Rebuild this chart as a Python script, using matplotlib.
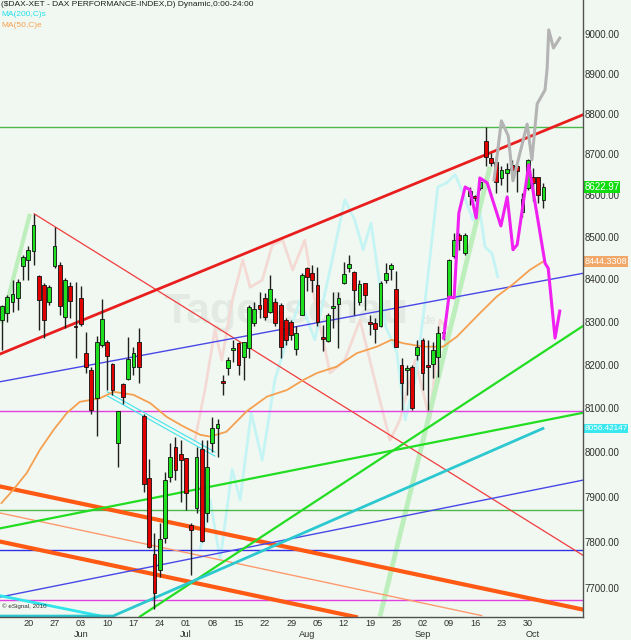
import matplotlib
matplotlib.use('Agg')
import matplotlib.pyplot as plt
from matplotlib.ticker import NullLocator

plt.rcParams['font.family'] = ['Liberation Sans', 'DejaVu Sans']

# daily candles, index 0 = Mon 20 May 2013
day_idx = list(range(-5, 99))
opens = [8305, 8323, 8349, 8357, 8434, 8448, 8468, 8410, 8389, 8348, 8433, 8436, 8314, 8385,
         8293, 8357, 8229, 8189, 8125, 8248, 8256, 8204, 8024, 8158, 8169, 8196, 8254, 8085,
         7945, 7777, 7741, 7811, 7946, 8015, 7999, 7989, 7841, 7878, 8010, 7867, 8023, 8058,
         8164, 8194, 8236, 8252, 8219, 8241, 8300, 8342, 8357, 8326, 8349, 8342, 8306, 8301,
         8238, 8319, 8428, 8416, 8389, 8266, 8258, 8334, 8344, 8394, 8428, 8418, 8349, 8393,
         8301, 8299, 8291, 8400, 8427, 8378, 8202, 8190, 8198, 8225, 8260, 8202, 8205, 8221,
         8275, 8361, 8456, 8507, 8464, 8600, 8600, 8620, 8736, 8693, 8685, 8644, 8657, 8677,
         8673, 8563, 8620, 8648, 8647, 8592]
highs = [8342, 8365, 8400, 8402, 8460, 8480, 8558, 8412, 8392, 8389, 8527, 8444, 8404, 8396,
         8396, 8385, 8279, 8198, 8268, 8355, 8260, 8207, 8096, 8161, 8266, 8244, 8287, 8089,
         7987, 7823, 7844, 7959, 8023, 8038, 8031, 7990, 7844, 8015, 8031, 8031, 8083, 8079,
         8179, 8221, 8260, 8256, 8256, 8342, 8349, 8372, 8369, 8412, 8357, 8346, 8310, 8306,
         8291, 8416, 8432, 8436, 8432, 8295, 8322, 8372, 8372, 8444, 8460, 8422, 8400, 8394,
         8318, 8310, 8398, 8440, 8440, 8422, 8217, 8202, 8202, 8260, 8264, 8260, 8256, 8291,
         8299, 8449, 8512, 8512, 8512, 8624, 8604, 8644, 8771, 8705, 8697, 8673, 8681, 8689,
         8685, 8608, 8691, 8669, 8648, 8632]
lows = [8237, 8302, 8326, 8330, 8400, 8400, 8436, 8283, 8264, 8342, 8428, 8318, 8287, 8310,
        8217, 8291, 8183, 8090, 8039, 8244, 8145, 8133, 7970, 8112, 8167, 8179, 8160, 7913,
        7790, 7658, 7727, 7800, 7937, 7941, 7892, 7874, 7731, 7867, 7804, 7848, 8004, 7992,
        8133, 8179, 8209, 8179, 8167, 8217, 8291, 8310, 8306, 8322, 8291, 8217, 8248, 8260,
        8225, 8318, 8375, 8371, 8291, 8233, 8256, 8287, 8241, 8391, 8418, 8318, 8342, 8330,
        8271, 8252, 8290, 8394, 8400, 8243, 8098, 8133, 8098, 8213, 8145, 8098, 8171, 8175,
        8260, 8357, 8452, 8472, 8460, 8580, 8588, 8616, 8673, 8673, 8608, 8628, 8612, 8644,
        8612, 8551, 8616, 8588, 8584, 8572]
closes = [8338, 8361, 8367, 8396, 8454, 8472, 8531, 8353, 8306, 8383, 8481, 8338, 8400, 8351,
          8289, 8297, 8198, 8098, 8255, 8308, 8223, 8145, 8095, 8128, 8215, 8229, 8198, 7932,
          7792, 7692, 7809, 7941, 7991, 7962, 7985, 7911, 7830, 7993, 7806, 7969, 8057, 8066,
          8160, 8213, 8240, 8202, 8254, 8336, 8332, 8331, 8314, 8378, 8300, 8244, 8260, 8271,
          8275, 8412, 8408, 8400, 8302, 8261, 8318, 8340, 8357, 8414, 8438, 8376, 8391, 8365,
          8297, 8285, 8394, 8416, 8436, 8244, 8160, 8194, 8102, 8244, 8183, 8198, 8236, 8275,
          8279, 8448, 8495, 8495, 8507, 8614, 8597, 8636, 8697, 8681, 8636, 8665, 8666, 8665,
          8663, 8593, 8689, 8632, 8604, 8622.97]

ma50_idx = [-5.1, -2.9, -0.3, 2.2, 4.8, 7.3, 9.8, 13.6, 16.2, 20.0, 23.2, 26.3, 29.5, 32.7,
            34.6, 37.7, 41.5, 45.4, 49.2, 52.3, 54.9, 58.7, 62.5, 66.3, 69.1, 71.3, 75.1, 78.9,
            81.5, 85.9, 89.1, 92.3, 95.4, 98.0]
ma50_val = [7889, 7918, 7956, 8008, 8053, 8091, 8117, 8125, 8140, 8133, 8114, 8083, 8061, 8042,
            8038, 8049, 8095, 8129, 8144, 8167, 8183, 8198, 8229, 8244, 8260, 8252, 8244, 8244,
            8267, 8322, 8361, 8391, 8424, 8444.3308]
ma200_idx = [-5.4, 16.1, 97.9]
ma200_val = [7642, 7642, 8056.42147]

# projections
proj_pink_idx = [79.0, 80.0, 81.0, 81.9, 83.1, 84.0, 85.2, 85.9, 87.3, 89.9, 91.1, 92.2, 93.0,
                 95.2, 98.3, 98.9, 100.2, 101.1]
proj_pink_val = [8264, 8360, 8358, 8560, 8623, 8616, 8548, 8645, 8633, 8529, 8599, 8472, 8484,
                 8677, 8440, 8428, 8264, 8327]
proj_grey_idx = [88.6, 90.0, 91.3, 92.2, 93.2, 94.9, 95.8, 96.8, 98.3, 98.7, 99.0, 99.9, 101.1]
proj_grey_val = [8640, 8785, 8748, 8638, 8689, 8777, 8689, 8827, 8862, 8916, 9013, 8967, 8992]
ghost_cyan_idx = [32.7, 34.6, 36.5, 38.8, 40.3, 42.4, 44.5, 46.9, 49.8, 51.7, 54.5, 57.4, 60.2,
                  62.1, 63.7, 65.2, 68.0, 70.1, 71.7, 73.6, 75.5, 77.9, 79.6, 81.2, 82.7, 84.6,
                  85.4, 86.9, 88.2, 89.3]
ghost_cyan_val = [7786, 7896, 7764, 7964, 7896, 8092, 7985, 8167, 8283, 8352, 8260, 8424, 8592,
                  8543, 8472, 8536, 8290, 8231, 8076, 8167, 8352, 8623, 8633, 8653, 8608, 8543,
                  8608, 8478, 8464, 8408]
ghost_red_idx = [31.7, 33.6, 35.5, 36.8, 38.8, 40.8, 42.2, 44.5, 46.4, 48.4, 50.3, 52.6, 54.5,
                 57.4, 60.2, 63.1, 65.9, 68.8, 70.7, 73.6, 76.4, 78.3, 80.2, 81.7]
ghost_red_val = [8030, 8144, 8283, 8213, 8352, 8448, 8383, 8400, 8483, 8495, 8424, 8495, 8352,
                 8183, 8213, 8306, 8167, 8030, 8076, 8213, 8076, 8306, 8283, 8352]

# hand drawn lines: ([i0, i1], [p0, p1])
red_channel = ([-5.38, 105.5], [8227, 8800])
red_fall = ([1.14, 105.5], [8558, 7774])
blue_upper = ([-5.38, 105.5], [8163, 8416])
blue_lower = ([-5.38, 105.5], [7683, 7940])
green_slow = ([-5.38, 105.5], [7833, 8092])
green_fast = ([21.25, 105.5], [7641, 8292])
orange_upper = ([-5.38, 105.5], [7926, 7656])
orange_lower = ([-5.38, 62.3], [7804, 7640])
salmon_line = ([-5.38, 86.25], [7867, 7643])
cyan_short = ([-5.38, 14.27], [7686, 7641])
cyan_pair_a = ([14.97, 35.5], [8140, 8003])
cyan_pair_b = ([14.97, 35.5], [8131, 7994])
pale_green_a = ([66.9, 87.8], [7641, 8672])
pale_green_b = ([-5.06, 0.32], [8299, 8558])
green_levels = [8770, 7874]
magenta_levels = [8095, 7677]
blue_levels = [7786]

price_ticks = [9000, 8900, 8800, 8700, 8600, 8500, 8400, 8300, 8200, 8100, 8000, 7900, 7800, 7700]
week_idx = list(range(0, 100, 5))
week_labels = ['20', '27', '03', '10', '17', '24', '01', '08', '15', '22', '29', '05', '12',
               '19', '26', '02', '09', '16', '23', '30']
month_idx = [10, 30, 53, 75, 96]
month_labels = ['Jun', 'Jul', 'Aug', 'Sep', 'Oct']
last_labels = ['8622.97', '8444.3308', '8056.42147']

BG = '#F1F8F1'
fig = plt.figure(figsize=(6.31, 6.40), dpi=100, facecolor=BG)
ax = fig.add_axes([0, 23 / 640, 583 / 631, 617 / 640], facecolor=BG)
ax.set_yscale('log')
ax.set_xlim(-5.38, 105.52)
ax.set_ylim(7640, 9089)

ax.text(0.49, 0.495, 'Tagesschau', transform=ax.transAxes, ha='center', va='center',
        fontsize=31, fontweight='bold', color='#E3EAE3', zorder=0)
ax.text(0.735, 0.48, 'de', transform=ax.transAxes, ha='center', va='center',
        fontsize=9, fontweight='bold', color='#E3EAE3', zorder=0)

# pale ghost series and thick pale trend lines
ax.plot(ghost_red_idx, ghost_red_val, color='#F4DAD4', lw=2, zorder=1)
ax.plot(ghost_cyan_idx, ghost_cyan_val, color='#C4F4F4', lw=2, zorder=1)
ax.plot(*pale_green_a, color='#BDEFBD', lw=3.5, zorder=1, solid_capstyle='butt')
ax.plot(*pale_green_b, color='#BDEFBD', lw=3, zorder=1, solid_capstyle='butt')

for lv in green_levels:
    ax.axhline(lv, color='#4CB84C', lw=1, zorder=2)
for lv in magenta_levels:
    ax.axhline(lv, color='#E040E0', lw=1, zorder=2)
for lv in blue_levels:
    ax.axhline(lv, color='#3030E8', lw=1, zorder=2)

ax.plot(*orange_upper, color='#FF5A14', lw=3, zorder=2)
ax.plot(*orange_lower, color='#FF5A14', lw=3, zorder=2)
ax.plot(*salmon_line, color='#FF9A70', lw=1, zorder=2)
ax.plot(*red_fall, color='#F03C3C', lw=0.9, zorder=2)
ax.plot(*red_channel, color='#E81E1E', lw=2, zorder=3)
ax.plot(*blue_upper, color='#4848E8', lw=1, zorder=2)
ax.plot(*blue_lower, color='#4848E8', lw=1, zorder=2)
ax.plot(*green_slow, color='#22DD22', lw=1.6, zorder=2)
ax.plot(*green_fast, color='#22DD22', lw=1.6, zorder=2)
ax.plot(*cyan_short, color='#30E4EC', lw=2, zorder=2)
ax.plot(*cyan_pair_a, color='#40E4EC', lw=0.8, zorder=2)
ax.plot(*cyan_pair_b, color='#40E4EC', lw=0.8, zorder=2)
ax.plot(ma200_idx, ma200_val, color='#2CC8D0', lw=2, zorder=2, clip_on=False)
ax.plot(ma50_idx, ma50_val, color='#F5A050', lw=1.3, zorder=3)

# candles
ax.vlines(day_idx, lows, highs, color='#202020', lw=1, zorder=4)
for i, o, c in zip(day_idx, opens, closes):
    lo, hi = min(o, c), max(o, c)
    if hi - lo < 3:
        lo, hi = lo - 1.5, hi + 1.5
    ax.bar(i, hi - lo, bottom=lo, width=0.72, color='#1FE01F' if c >= o else '#E00000',
           edgecolor='#101010', linewidth=0.6, zorder=5)

ax.plot(proj_grey_idx, proj_grey_val, color='#B4B4B4', lw=2.2, zorder=6)
ax.plot(proj_pink_idx, proj_pink_val, color='#F020F0', lw=2.2, zorder=6)

ax.yaxis.set_major_locator(NullLocator())
ax.yaxis.set_minor_locator(NullLocator())
ax.xaxis.set_major_locator(NullLocator())
ax.xaxis.set_minor_locator(NullLocator())
for s in ['top', 'left']:
    ax.spines[s].set_visible(False)
for s in ['right', 'bottom']:
    ax.spines[s].set_color('#505050')
    ax.spines[s].set_linewidth(1)
    ax.spines[s].set_zorder(7)

ytr = ax.get_yaxis_transform()
for p in price_ticks:
    ax.text(1.002, p, f'{p:.2f}', transform=ytr, ha='left', va='center', fontsize=7,
            color='#303030', clip_on=False)
last_vals = [closes[-1], ma50_val[-1], ma200_val[-1]]
for val, lab, fc, fs in zip(last_vals, last_labels, ['#10DC10', '#F2A868', '#3CE8F0'],
                            [7, 6.6, 5.9]):
    ax.text(1.002, val, lab, transform=ytr, ha='left', va='center', fontsize=fs,
            color='white', clip_on=False,
            bbox=dict(boxstyle='square,pad=0.1', fc=fc, ec='none'))

xtr = ax.get_xaxis_transform()
for i, lab in zip(week_idx, week_labels):
    ax.text(i, -0.01, lab, transform=xtr, ha='center', va='center', fontsize=6.6,
            color='#303030', clip_on=False)
for i, lab in zip(month_idx, month_labels):
    ax.text(i, -0.028, lab, transform=xtr, ha='center', va='center', fontsize=6.6,
            color='#303030', clip_on=False)

ax.text(0.002, 0.993, '($DAX-XET - DAX PERFORMANCE-INDEX,D) Dynamic,0:00-24:00',
        transform=ax.transAxes, ha='left', va='center', fontsize=6, color='#202020')
ax.text(0.002, 0.976, 'MA(200,C)s', transform=ax.transAxes, ha='left', va='center',
        fontsize=6, color='#20E0EC')
ax.text(0.002, 0.959, 'MA(50,C)e', transform=ax.transAxes, ha='left', va='center',
        fontsize=6, color='#F5A050')
ax.text(0.004, 0.017, '\u00a9 eSignal, 2010', transform=ax.transAxes, ha='left', va='center',
        fontsize=4.5, color='#303030')

fig.savefig('out.png', dpi=100, facecolor=BG)
